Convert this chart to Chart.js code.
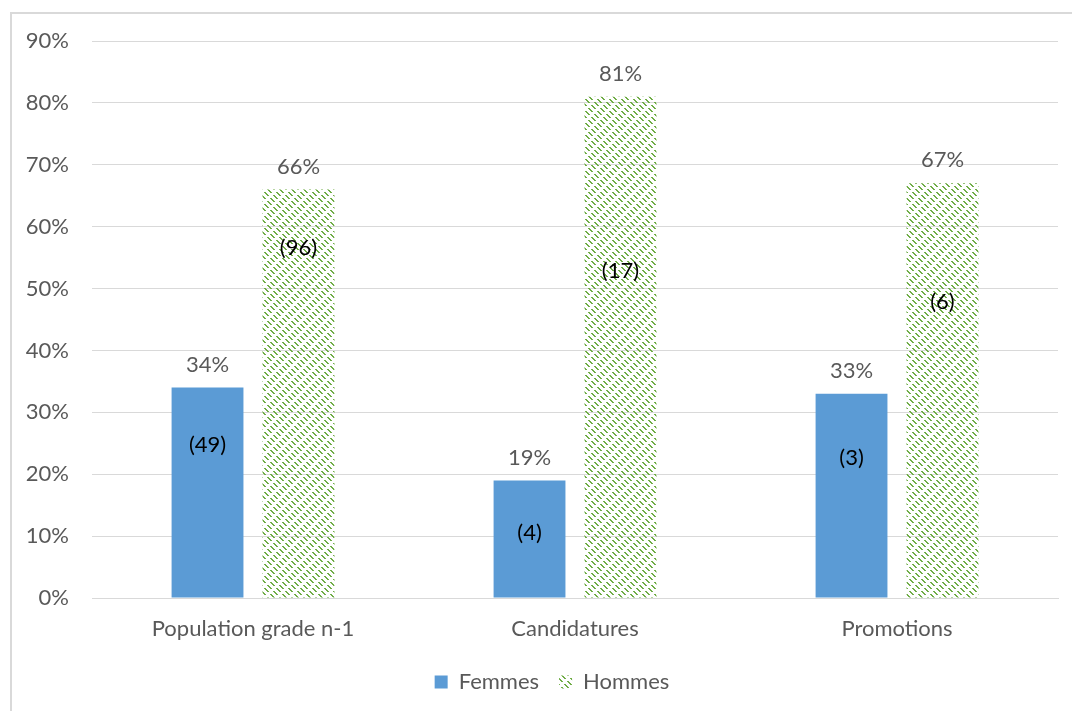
<!DOCTYPE html>
<html>
<head>
<meta charset="utf-8">
<script src="https://cdn.jsdelivr.net/npm/chart.js@4.4.1/dist/chart.umd.min.js"></script>
<style>
  html, body { margin: 0; padding: 0; background: #ffffff; overflow: hidden; }
  #frame { position: absolute; left: 10px; top: 12px; width: 1100px; height: 720px;
           border-left: 2px solid #d9d9d9; border-top: 2px solid #d9d9d9; box-sizing: border-box; }
  #wrap { position: absolute; left: 0; top: 0; width: 1072px; height: 711px; }
</style>
</head>
<body>
<div id="frame"></div>
<div id="wrap"><canvas id="c" width="1072" height="711"></canvas></div>
<script>
// ---- data ----
const categories = ["Population grade n-1", "Candidatures", "Promotions"];
const seriesNames = ["Femmes", "Hommes"];
const femmesPct = [34, 19, 33];
const hommesPct = [66, 81, 67];
const femmesCount = ["(49)", "(4)", "(3)"];
const hommesCount = ["(96)", "(17)", "(6)"];
// where the count labels sit, in axis units (%)
const femmesCountAt = [24.8, 10.5, 22.7];
const hommesCountAt = [56.5, 52.9, 47.9];
const yTicksMax = 90;

// ---- hatch pattern ----
function makeHatch(color) {
  const t = document.createElement('canvas');
  t.width = 12; t.height = 12;
  const g = t.getContext('2d');
  g.fillStyle = color;
  for (let y = 0; y < 12; y++) {
    if (y % 6 < 4) { g.fillRect(y % 12, y, 2, 1); if (y % 12 === 11) g.fillRect(0, y, 1, 1); }
    if ((y + 3) % 6 < 4) { const x = (y + 6) % 12; g.fillRect(x, y, 2, 1); if (x === 11) g.fillRect(0, y, 1, 1); }
  }
  return document.getElementById('c').getContext('2d').createPattern(t, 'repeat');
}
const hatch = makeHatch('#70ad47');

const FONT = 'Lato, "Liberation Sans", sans-serif';

const labelPlugin = {
  id: 'barLabels',
  afterLayout(chart) {
    const lg = chart.legend;
    if (lg) { lg.left += 23; lg.right += 23; }
  },
  afterDatasetsDraw(chart) {
    const ctx = chart.ctx;
    const ys = chart.scales.y;
    const pcts = [femmesPct, hommesPct];
    const counts = [femmesCount, hommesCount];
    const countAt = [femmesCountAt, hommesCountAt];
    ctx.save();
    ctx.textAlign = 'center';
    ctx.textBaseline = 'middle';
    chart.data.datasets.forEach((ds, di) => {
      const meta = chart.getDatasetMeta(di);
      meta.data.forEach((bar, i) => {
        ctx.font = '22px ' + FONT;
        ctx.fillStyle = '#595959';
        ctx.fillText(pcts[di][i] + '%', bar.x, bar.y - 23);
        ctx.fillStyle = '#000000';
        ctx.fillText(counts[di][i], bar.x, ys.getPixelForValue(countAt[di][i]));
      });
    });
    ctx.restore();
  }
};

new Chart(document.getElementById('c'), {
  type: 'bar',
  data: {
    labels: categories,
    datasets: [
      { label: seriesNames[0], data: femmesPct, backgroundColor: '#5b9bd5', borderWidth: 0 },
      { label: seriesNames[1], data: hommesPct, backgroundColor: hatch, borderWidth: 0 }
    ]
  },
  options: {
    responsive: false,
    animation: false,
    devicePixelRatio: 1,
    categoryPercentage: 0.565,
    barPercentage: 0.79,
    layout: { padding: { top: 41, right: 14, left: 0, bottom: 8 } },
    plugins: {
      legend: {
        position: 'bottom',
        labels: {
          boxWidth: 13, boxHeight: 13, padding: 20,
          color: '#595959',
          font: { family: FONT, size: 22 }
        }
      },
      tooltip: { enabled: false }
    },
    scales: {
      x: {
        grid: { display: false, drawTicks: false },
        border: { display: true, color: '#d9d9d9', width: 1 },
        ticks: { color: '#595959', font: { family: FONT, size: 22 }, padding: 18 },
        afterFit(s) { s.height = 53; }
      },
      y: {
        min: 0, max: yTicksMax,
        grid: { color: '#d9d9d9', lineWidth: 1, drawTicks: false },
        border: { display: false },
        ticks: { stepSize: 10, color: '#595959', font: { family: FONT, size: 22 }, padding: 23,
                 callback: v => v + '%' },
        afterFit(s) { s.width = 92; }
      }
    }
  },
  plugins: [labelPlugin]
});
</script>
</body>
</html>
